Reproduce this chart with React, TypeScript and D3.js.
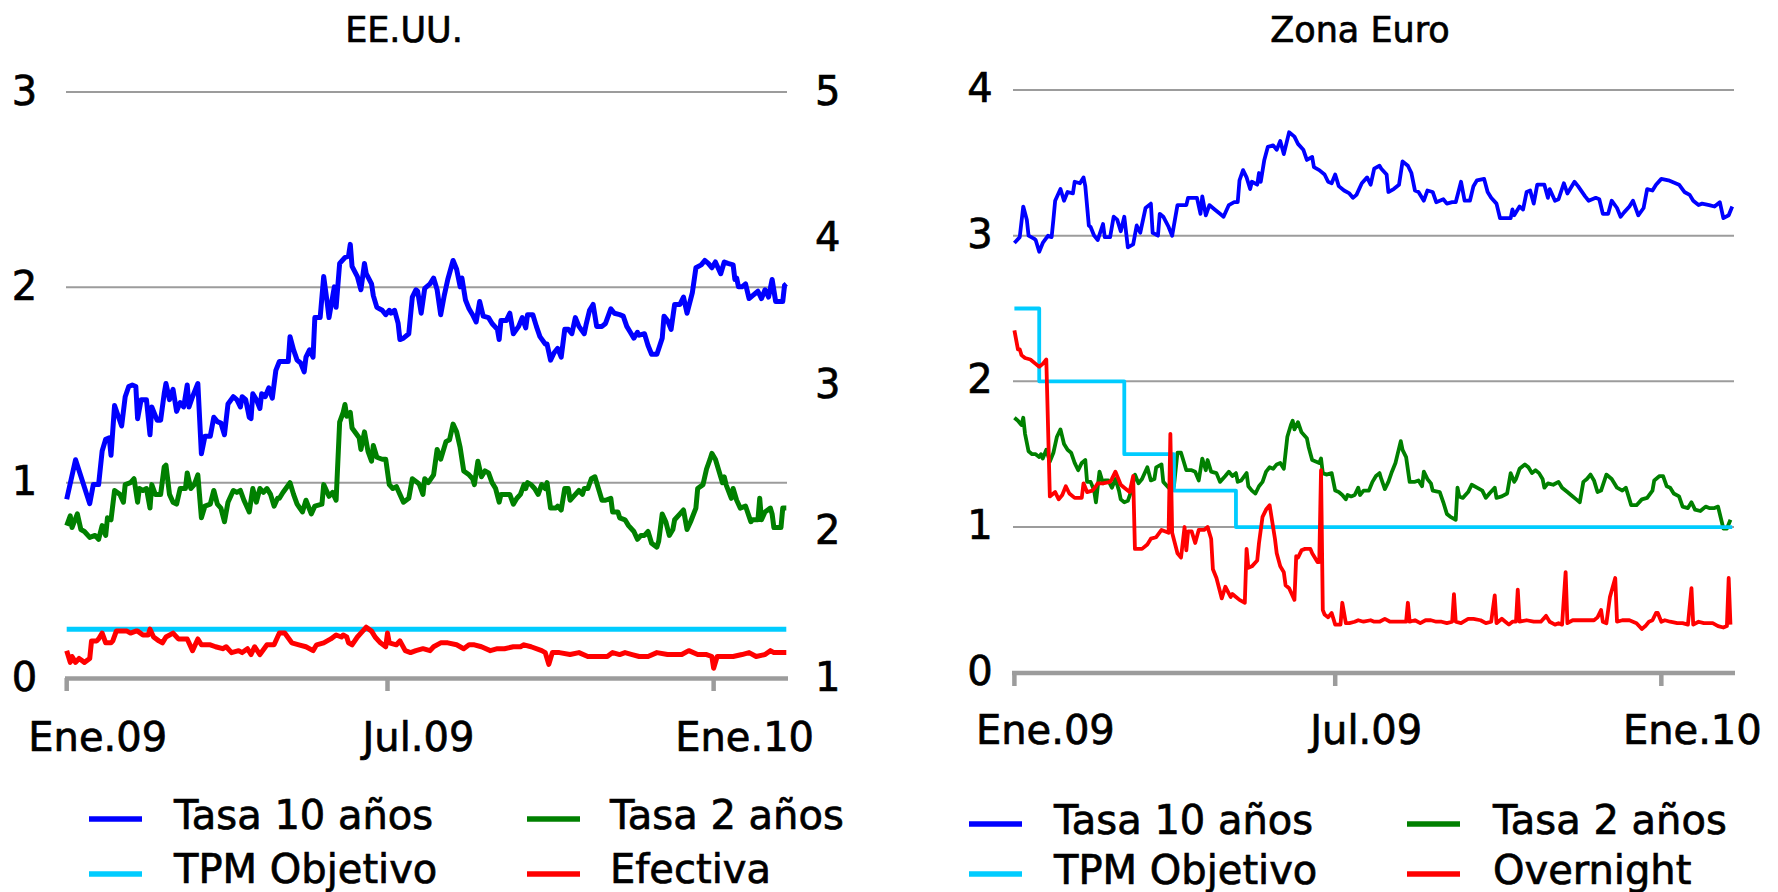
import React from "react";
import * as d3 from "d3";

type P = [number, number];

const baseDate = new Date(2009, 0, 1);
const endDay = 406;
const xTickDates = [new Date(2009, 0, 1), new Date(2009, 6, 1), new Date(2010, 0, 1)];
const xTickLabels = ["Ene.09", "Jul.09", "Ene.10"];

const usLeftTicks = [0, 1, 2, 3];
const usRightTicks = [1, 2, 3, 4, 5];
const euTicks = [0, 1, 2, 3, 4];

const usTitle = "EE.UU.";
const euTitle = "Zona Euro";
const usLegend = ["Tasa 10 años", "Tasa 2 años", "TPM Objetivo", "Efectiva"];
const euLegend = ["Tasa 10 años", "Tasa 2 años", "TPM Objetivo", "Overnight"];

// EE.UU. — 10-year (right axis)
const us10y: P[] = [[0,2.22],[5,2.49],[13,2.19],[15,2.32],[18,2.32],[20,2.55],[22,2.63],[24,2.64],[25,2.52],[27,2.86],[31,2.72],[33,2.92],[35,2.99],[37,3.00],[39,2.99],[40,2.77],[42,2.90],[45,2.90],[47,2.66],[48,2.85],[51,2.76],[53,2.76],[55,2.94],[56,3.01],[58,2.90],[60,2.97],[62,2.82],[64,2.88],[66,2.85],[68,3.00],[69,2.85],[71,2.92],[74,3.01],[76,2.53],[78,2.65],[81,2.65],[83,2.78],[85,2.75],[87,2.74],[89,2.66],[91,2.87],[94,2.92],[96,2.90],[98,2.85],[99,2.92],[101,2.90],[103,2.78],[104,2.77],[105,2.94],[107,2.90],[109,2.84],[110,2.94],[112,2.92],[114,2.98],[116,2.91],[118,3.10],[120,3.16],[123,3.16],[125,3.16],[126,3.33],[128,3.24],[130,3.17],[132,3.15],[134,3.09],[135,3.19],[137,3.24],[139,3.19],[140,3.46],[143,3.46],[145,3.74],[147,3.56],[148,3.46],[151,3.67],[152,3.53],[154,3.83],[157,3.87],[159,3.88],[160,3.96],[161,3.81],[164,3.74],[166,3.65],[168,3.83],[169,3.76],[172,3.69],[173,3.61],[175,3.53],[178,3.51],[180,3.48],[182,3.51],[183,3.49],[185,3.51],[187,3.42],[188,3.31],[190,3.32],[193,3.35],[195,3.60],[197,3.65],[198,3.64],[200,3.49],[202,3.66],[205,3.69],[207,3.73],[209,3.65],[211,3.48],[213,3.61],[215,3.72],[218,3.85],[220,3.79],[222,3.67],[223,3.73],[225,3.58],[227,3.52],[229,3.48],[231,3.43],[233,3.57],[235,3.47],[238,3.46],[240,3.42],[243,3.38],[244,3.31],[245,3.44],[248,3.44],[250,3.49],[252,3.35],[255,3.40],[257,3.46],[259,3.39],[260,3.48],[263,3.48],[265,3.40],[267,3.33],[270,3.28],[271,3.28],[273,3.17],[275,3.22],[277,3.25],[279,3.19],[281,3.38],[283,3.38],[285,3.35],[287,3.46],[289,3.40],[292,3.35],[293,3.41],[295,3.51],[297,3.55],[299,3.40],[302,3.40],[304,3.42],[307,3.52],[309,3.49],[312,3.48],[314,3.47],[316,3.40],[318,3.36],[320,3.32],[322,3.36],[323,3.34],[326,3.35],[328,3.27],[330,3.21],[333,3.21],[336,3.32],[337,3.47],[339,3.44],[341,3.38],[343,3.55],[346,3.55],[348,3.60],[350,3.49],[353,3.63],[355,3.80],[358,3.82],[360,3.85],[362,3.83],[364,3.80],[366,3.84],[369,3.76],[371,3.84],[373,3.83],[376,3.82],[377,3.72],[378,3.73],[379,3.67],[381,3.67],[383,3.69],[385,3.59],[387,3.61],[390,3.64],[392,3.59],[394,3.65],[396,3.60],[398,3.72],[400,3.57],[402,3.57],[404,3.57],[405,3.68],[406,3.69]];

// EE.UU. — 2-year (left axis)
const us2y: P[] = [[0,0.78],[2,0.83],[3,0.77],[6,0.84],[8,0.76],[10,0.75],[13,0.72],[16,0.73],[18,0.71],[20,0.78],[22,0.73],[23,0.82],[25,0.81],[27,0.96],[30,0.94],[32,0.90],[33,0.99],[36,1.00],[38,1.02],[40,0.90],[41,0.97],[43,0.96],[45,0.97],[47,0.87],[48,0.99],[50,0.94],[53,0.94],[55,1.08],[56,1.09],[58,0.94],[60,0.90],[62,0.89],[64,0.97],[67,0.97],[68,1.05],[70,0.97],[72,0.99],[74,1.04],[76,0.82],[78,0.88],[81,0.89],[83,0.96],[85,0.89],[87,0.87],[89,0.80],[91,0.90],[94,0.96],[96,0.95],[98,0.96],[100,0.91],[102,0.87],[103,0.85],[105,0.97],[107,0.90],[109,0.97],[111,0.95],[113,0.97],[115,0.94],[117,0.88],[119,0.92],[120,0.92],[122,0.95],[126,1.00],[128,0.94],[130,0.89],[133,0.85],[135,0.91],[138,0.84],[140,0.88],[144,0.89],[145,0.99],[148,0.93],[150,0.95],[152,0.91],[154,1.31],[156,1.36],[157,1.40],[158,1.34],[160,1.36],[161,1.28],[165,1.23],[166,1.17],[168,1.26],[170,1.16],[172,1.11],[173,1.19],[175,1.13],[178,1.12],[180,1.12],[182,0.99],[184,0.97],[186,0.98],[188,0.94],[190,0.90],[193,0.92],[195,1.02],[198,1.00],[199,0.99],[201,0.94],[202,1.02],[204,1.00],[207,1.04],[209,1.17],[211,1.12],[213,1.18],[214,1.21],[216,1.22],[218,1.30],[220,1.26],[222,1.18],[224,1.06],[227,1.04],[229,1.02],[230,0.99],[232,1.11],[234,1.03],[236,1.06],[238,1.05],[240,1.00],[242,0.97],[244,0.90],[245,0.94],[248,0.94],[250,0.94],[252,0.89],[254,0.92],[256,0.94],[258,0.99],[259,0.97],[260,1.00],[262,0.99],[264,0.97],[266,0.94],[268,0.99],[270,0.97],[271,1.00],[273,0.87],[276,0.87],[277,0.88],[279,0.86],[281,0.97],[283,0.97],[284,0.91],[286,0.93],[289,0.96],[291,0.94],[292,0.97],[294,0.97],[296,1.02],[298,1.03],[300,0.97],[302,0.91],[304,0.91],[307,0.92],[308,0.85],[311,0.85],[312,0.82],[315,0.81],[317,0.78],[320,0.75],[322,0.71],[324,0.73],[326,0.73],[328,0.75],[330,0.69],[333,0.67],[334,0.70],[336,0.84],[338,0.80],[340,0.73],[342,0.76],[343,0.81],[346,0.84],[348,0.86],[350,0.76],[352,0.80],[355,0.87],[356,0.97],[359,0.99],[361,1.07],[363,1.12],[364,1.15],[366,1.12],[368,1.06],[370,1.00],[371,1.03],[372,0.99],[375,0.92],[376,0.97],[378,0.91],[380,0.87],[383,0.88],[386,0.80],[387,0.81],[389,0.81],[390,0.81],[391,0.92],[392,0.81],[394,0.85],[397,0.87],[398,0.84],[399,0.77],[402,0.77],[403,0.77],[404,0.87],[406,0.87]];

// EE.UU. — policy target
const usTarget: P[] = [[0,0.25],[406,0.25]];

// EE.UU. — effective fed funds
const usEffective: P[] = [[0,0.14],[2,0.08],[3,0.11],[5,0.08],[7,0.10],[10,0.08],[13,0.10],[14,0.19],[17,0.19],[18,0.20],[20,0.23],[22,0.18],[25,0.18],[26,0.19],[28,0.24],[31,0.24],[34,0.24],[36,0.23],[39,0.24],[40,0.24],[43,0.22],[46,0.22],[47,0.25],[49,0.21],[52,0.19],[54,0.18],[56,0.21],[60,0.23],[63,0.20],[68,0.20],[71,0.14],[74,0.20],[76,0.17],[81,0.17],[84,0.16],[88,0.15],[90,0.16],[93,0.13],[97,0.14],[99,0.13],[102,0.15],[104,0.12],[106,0.16],[109,0.12],[113,0.17],[117,0.17],[120,0.23],[123,0.23],[127,0.18],[131,0.17],[135,0.16],[139,0.14],[141,0.17],[145,0.18],[149,0.20],[152,0.22],[155,0.21],[156,0.22],[158,0.21],[159,0.18],[161,0.17],[164,0.21],[167,0.24],[169,0.26],[172,0.24],[174,0.21],[177,0.18],[180,0.16],[181,0.23],[182,0.18],[186,0.17],[188,0.19],[191,0.14],[194,0.13],[197,0.14],[201,0.15],[205,0.14],[207,0.16],[211,0.18],[215,0.18],[220,0.17],[224,0.15],[227,0.17],[230,0.17],[234,0.16],[239,0.14],[243,0.15],[247,0.15],[252,0.16],[256,0.16],[258,0.17],[262,0.16],[268,0.14],[270,0.13],[272,0.07],[274,0.13],[278,0.13],[284,0.12],[289,0.13],[294,0.11],[299,0.11],[305,0.11],[308,0.13],[312,0.12],[315,0.13],[319,0.12],[323,0.11],[328,0.11],[333,0.13],[339,0.12],[347,0.12],[351,0.14],[356,0.12],[361,0.12],[364,0.11],[365,0.05],[367,0.11],[370,0.11],[376,0.11],[381,0.12],[385,0.13],[389,0.11],[394,0.12],[397,0.14],[399,0.13],[404,0.13],[406,0.13]];

// Zona Euro — 10-year
const eu10y: P[] = [[0,2.95],[3,2.99],[5,3.20],[7,3.11],[8,3.00],[11,2.98],[12,2.97],[14,2.89],[16,2.95],[19,3.00],[21,2.99],[22,3.11],[23,3.24],[26,3.32],[28,3.24],[30,3.30],[33,3.29],[34,3.37],[37,3.36],[39,3.40],[40,3.34],[42,3.07],[43,3.06],[45,3.00],[47,2.97],[50,3.08],[51,2.99],[54,2.99],[56,3.13],[58,3.11],[60,3.03],[62,3.13],[64,2.92],[67,2.94],[69,3.07],[71,3.02],[74,3.19],[77,3.22],[78,3.02],[81,3.00],[82,3.15],[84,3.13],[87,3.06],[89,3.00],[92,3.21],[95,3.21],[97,3.21],[98,3.26],[100,3.26],[103,3.26],[105,3.15],[106,3.27],[108,3.14],[110,3.21],[113,3.18],[116,3.15],[118,3.13],[121,3.21],[124,3.23],[126,3.23],[127,3.38],[129,3.45],[131,3.40],[133,3.32],[134,3.37],[137,3.35],[138,3.43],[139,3.37],[141,3.52],[143,3.61],[146,3.62],[148,3.59],[150,3.65],[152,3.56],[155,3.71],[158,3.68],[160,3.63],[163,3.59],[165,3.52],[168,3.54],[169,3.47],[172,3.45],[175,3.42],[177,3.37],[179,3.36],[181,3.42],[183,3.34],[186,3.31],[189,3.29],[191,3.26],[193,3.28],[196,3.36],[199,3.40],[201,3.35],[203,3.46],[206,3.48],[207,3.46],[210,3.42],[211,3.30],[214,3.32],[217,3.35],[219,3.51],[222,3.48],[224,3.43],[226,3.31],[228,3.30],[231,3.24],[233,3.31],[236,3.30],[238,3.23],[240,3.24],[242,3.25],[244,3.22],[247,3.23],[249,3.23],[252,3.37],[254,3.24],[257,3.24],[259,3.34],[261,3.38],[265,3.39],[267,3.30],[269,3.26],[272,3.22],[274,3.12],[276,3.12],[280,3.12],[281,3.18],[282,3.14],[285,3.20],[287,3.18],[289,3.30],[291,3.31],[293,3.22],[295,3.35],[299,3.35],[301,3.26],[302,3.32],[305,3.24],[307,3.25],[310,3.36],[312,3.29],[316,3.37],[318,3.34],[322,3.27],[324,3.24],[328,3.26],[330,3.25],[332,3.15],[335,3.15],[337,3.24],[340,3.19],[342,3.13],[344,3.16],[347,3.20],[349,3.24],[352,3.14],[355,3.19],[357,3.32],[360,3.31],[362,3.35],[365,3.39],[369,3.38],[371,3.37],[375,3.35],[378,3.30],[381,3.28],[383,3.24],[386,3.21],[388,3.22],[392,3.21],[395,3.20],[398,3.23],[400,3.12],[403,3.14],[405,3.20]];

// Zona Euro — 2-year
const eu2y: P[] = [[0,1.75],[2,1.73],[4,1.70],[5,1.75],[6,1.64],[8,1.52],[10,1.50],[12,1.50],[14,1.48],[15,1.50],[16,1.47],[18,1.53],[20,1.45],[22,1.51],[24,1.62],[26,1.67],[28,1.57],[30,1.53],[32,1.51],[34,1.44],[36,1.39],[38,1.44],[40,1.46],[41,1.31],[43,1.31],[45,1.25],[46,1.17],[48,1.38],[50,1.30],[51,1.32],[53,1.32],[55,1.27],[57,1.33],[59,1.25],[60,1.19],[62,1.17],[64,1.18],[66,1.25],[68,1.36],[70,1.30],[72,1.33],[75,1.41],[77,1.32],[79,1.33],[80,1.41],[83,1.43],[84,1.31],[87,1.27],[90,1.28],[92,1.51],[94,1.51],[95,1.47],[97,1.39],[100,1.39],[102,1.38],[104,1.32],[106,1.47],[108,1.39],[109,1.46],[111,1.38],[114,1.37],[116,1.31],[119,1.35],[121,1.38],[123,1.35],[125,1.37],[126,1.31],[128,1.32],[131,1.37],[132,1.28],[134,1.25],[136,1.23],[138,1.28],[140,1.31],[142,1.38],[144,1.41],[146,1.40],[148,1.43],[150,1.44],[152,1.40],[154,1.62],[156,1.70],[157,1.73],[158,1.67],[160,1.72],[162,1.65],[165,1.61],[166,1.55],[168,1.46],[170,1.45],[172,1.44],[173,1.47],[174,1.37],[176,1.36],[179,1.37],[181,1.25],[183,1.24],[185,1.22],[187,1.19],[188,1.22],[190,1.21],[192,1.22],[194,1.27],[195,1.22],[197,1.25],[200,1.25],[202,1.31],[204,1.35],[206,1.37],[207,1.33],[209,1.26],[211,1.31],[213,1.38],[215,1.44],[216,1.49],[218,1.59],[219,1.53],[221,1.48],[223,1.31],[226,1.31],[228,1.32],[230,1.28],[231,1.38],[233,1.33],[235,1.30],[236,1.25],[240,1.24],[242,1.17],[244,1.09],[246,1.07],[249,1.05],[250,1.27],[251,1.21],[253,1.20],[256,1.24],[258,1.29],[261,1.27],[264,1.25],[266,1.20],[268,1.23],[271,1.27],[272,1.20],[275,1.21],[278,1.23],[280,1.37],[282,1.31],[283,1.33],[285,1.40],[288,1.43],[290,1.41],[292,1.37],[294,1.39],[296,1.37],[298,1.33],[299,1.27],[301,1.30],[304,1.29],[307,1.31],[309,1.27],[312,1.24],[314,1.22],[317,1.19],[319,1.17],[321,1.31],[323,1.33],[325,1.36],[327,1.32],[329,1.24],[331,1.25],[334,1.36],[337,1.33],[340,1.27],[343,1.25],[345,1.27],[348,1.15],[351,1.15],[354,1.19],[357,1.20],[360,1.25],[361,1.32],[364,1.35],[366,1.35],[368,1.28],[370,1.27],[372,1.23],[375,1.21],[377,1.14],[380,1.13],[382,1.17],[384,1.12],[387,1.11],[390,1.14],[392,1.13],[395,1.13],[397,1.14],[400,0.99],[402,0.99],[404,1.05]];

// Zona Euro — policy target (step)
const euTarget: P[] = [[0,2.5],[14,2.0],[62,1.5],[90,1.25],[125,1.0],[405,1.0]];

// Zona Euro — overnight
const euOvernight: P[] = [[0,2.35],[2,2.22],[3,2.22],[4,2.18],[6,2.16],[9,2.15],[12,2.12],[14,2.10],[16,2.12],[18,2.15],[20,1.21],[23,1.24],[25,1.19],[27,1.22],[29,1.28],[31,1.23],[34,1.20],[38,1.20],[39,1.30],[41,1.24],[44,1.25],[46,1.28],[47,1.30],[50,1.30],[54,1.31],[55,1.33],[57,1.38],[60,1.29],[62,1.27],[65,1.24],[67,1.35],[68,0.85],[72,0.85],[75,0.88],[77,0.92],[80,0.93],[83,0.98],[87,0.96],[88,1.64],[89,0.96],[92,0.82],[94,0.79],[96,1.00],[97,0.84],[98,0.97],[100,0.97],[102,0.89],[104,0.98],[107,0.98],[109,1.00],[111,0.92],[112,0.71],[114,0.65],[117,0.51],[119,0.59],[122,0.52],[123,0.54],[125,0.52],[127,0.50],[130,0.48],[131,0.85],[132,0.72],[134,0.73],[137,0.77],[138,0.89],[140,1.07],[142,1.12],[144,1.15],[147,0.92],[148,0.82],[150,0.73],[152,0.69],[153,0.60],[155,0.58],[158,0.50],[159,0.80],[160,0.79],[162,0.84],[164,0.85],[167,0.85],[168,0.82],[171,0.76],[172,0.76],[173,1.39],[174,0.43],[175,0.40],[177,0.38],[179,0.41],[181,0.33],[184,0.33],[185,0.48],[187,0.34],[189,0.34],[192,0.35],[194,0.36],[197,0.35],[201,0.36],[203,0.35],[206,0.35],[209,0.37],[212,0.35],[216,0.35],[220,0.35],[221,0.35],[222,0.48],[223,0.35],[226,0.36],[229,0.34],[232,0.36],[235,0.36],[238,0.35],[241,0.35],[244,0.34],[247,0.35],[248,0.54],[249,0.35],[252,0.34],[256,0.37],[259,0.37],[263,0.36],[266,0.34],[269,0.35],[271,0.53],[272,0.34],[275,0.37],[277,0.35],[279,0.33],[281,0.35],[283,0.35],[284,0.57],[285,0.35],[289,0.36],[293,0.35],[297,0.35],[300,0.39],[302,0.35],[305,0.33],[307,0.34],[309,0.33],[311,0.69],[312,0.34],[315,0.36],[319,0.36],[323,0.36],[327,0.36],[329,0.38],[331,0.43],[332,0.35],[334,0.34],[336,0.52],[339,0.65],[340,0.35],[343,0.36],[347,0.36],[351,0.34],[354,0.30],[356,0.32],[358,0.35],[360,0.36],[362,0.41],[363,0.41],[365,0.35],[367,0.36],[370,0.35],[374,0.34],[377,0.34],[380,0.33],[382,0.58],[383,0.33],[386,0.35],[389,0.34],[391,0.34],[394,0.34],[397,0.32],[400,0.31],[402,0.32],[403,0.65],[404,0.33]];

const BLUE = "#0000FF";
const GREEN = "#008000";
const CYAN = "#00CCFF";
const RED = "#FF0000";
const GRID = "#9C9C9C";
const FONT = "'DejaVu Sans', Verdana, sans-serif";

const toDate = (d: number) => d3.timeDay.offset(baseDate, d);
const domain = [baseDate, toDate(endDay)];

const textStyle = { stroke: "#000", strokeWidth: 0.7, paintOrder: "stroke" } as any;

export default function App() {
  // EE.UU. panel scales
  const xUS = d3.scaleTime().domain(domain).range([66.7, 786.3]);
  const yUSL = d3.scaleLinear().domain([0, 3]).range([678, 92]);
  const yUSR = d3.scaleLinear().domain([1, 5]).range([678, 92]);
  // Zona Euro panel scales
  const xEU = d3.scaleTime().domain(domain).range([1014.4, 1734]);
  const yEU = d3.scaleLinear().domain([0, 4]).range([672.7, 90]);

  const mk = (x: any, y: any, curve: any = d3.curveLinear) =>
    d3.line<P>().x((d) => x(toDate(d[0]))).y((d) => y(d[1])).curve(curve);

  const usLines = [
    { data: us2y, y: yUSL, color: GREEN },
    { data: us10y, y: yUSR, color: BLUE },
    { data: usTarget, y: yUSL, color: CYAN },
    { data: usEffective, y: yUSL, color: RED },
  ];
  const euLines = [
    { data: eu10y, color: BLUE, curve: d3.curveLinear },
    { data: eu2y, color: GREEN, curve: d3.curveLinear },
    { data: euTarget, color: CYAN, curve: d3.curveStepAfter },
    { data: euOvernight, color: RED, curve: d3.curveLinear },
  ];

  const legend = (labels: string[], colors: string[], sx: number[], tx: number[], sy: number[], ty: number[]) =>
    labels.map((lab, i) => {
      const col = i % 2;
      const row = Math.floor(i / 2);
      return (
        <g key={lab + i}>
          <line x1={sx[col]} x2={sx[col] + 53} y1={sy[row]} y2={sy[row]} stroke={colors[i]} strokeWidth={5.5} />
          <text x={tx[col]} y={ty[row]} fontSize={40} fontFamily={FONT} fill="#000" style={textStyle}>{lab}</text>
        </g>
      );
    });

  const legendColors = [BLUE, GREEN, CYAN, RED];

  return (
    <svg
      width={1778}
      height={892}
      style={{ position: "absolute", left: 0, top: 0, display: "block", background: "#fff" }}
    >
      <rect x={0} y={0} width={1778} height={892} fill="#fff" />

      {/* ===== EE.UU. ===== */}
      <text x={404} y={42} textAnchor="middle" fontSize={35} fontFamily={FONT} style={textStyle}>{usTitle}</text>
      {usLeftTicks.filter((t) => t > 0).map((t) => (
        <line key={"gl" + t} x1={66} x2={787} y1={yUSL(t)} y2={yUSL(t)} stroke={GRID} strokeWidth={2} />
      ))}
      {usLeftTicks.map((t) => (
        <text key={"ll" + t} x={24.5} y={yUSL(t) + 12.5} textAnchor="middle" fontSize={40} fontFamily={FONT} style={textStyle}>{t}</text>
      ))}
      {usRightTicks.map((t) => (
        <text key={"rl" + t} x={815} y={yUSR(t) + 12.5} fontSize={40} fontFamily={FONT} style={textStyle}>{t}</text>
      ))}
      {usLines.map((s, i) => (
        <path key={"us" + i} d={mk(xUS, s.y)(s.data) || ""} fill="none" stroke={s.color} strokeWidth={5} strokeLinejoin="round" />
      ))}
      <line x1={65} x2={788} y1={678.5} y2={678.5} stroke={GRID} strokeWidth={4.5} />
      {xTickDates.map((d, i) => (
        <line key={"ut" + i} x1={xUS(d)} x2={xUS(d)} y1={678} y2={691} stroke={GRID} strokeWidth={4.5} />
      ))}
      {xTickDates.map((d, i) => (
        <text key={"ux" + i} x={xUS(d) + 31} y={751} textAnchor="middle" fontSize={40} fontFamily={FONT} style={textStyle}>{xTickLabels[i]}</text>
      ))}
      {legend(usLegend, legendColors, [89, 527], [174, 610], [819, 874], [829, 883])}

      {/* ===== Zona Euro ===== */}
      <text x={1360} y={42} textAnchor="middle" fontSize={35} fontFamily={FONT} style={textStyle}>{euTitle}</text>
      {euTicks.filter((t) => t > 0).map((t) => (
        <line key={"eg" + t} x1={1013} x2={1734} y1={yEU(t)} y2={yEU(t)} stroke={GRID} strokeWidth={2} />
      ))}
      {euTicks.map((t) => (
        <text key={"el" + t} x={980} y={yEU(t) + 12} textAnchor="middle" fontSize={40} fontFamily={FONT} style={textStyle}>{t}</text>
      ))}
      {euLines.map((s, i) => (
        <path key={"eu" + i} d={mk(xEU, yEU, s.curve)(s.data) || ""} fill="none" stroke={s.color} strokeWidth={3.8} strokeLinejoin="round" />
      ))}
      <line x1={1012} x2={1735} y1={673} y2={673} stroke={GRID} strokeWidth={4.5} />
      {xTickDates.map((d, i) => (
        <line key={"et" + i} x1={xEU(d)} x2={xEU(d)} y1={673} y2={686} stroke={GRID} strokeWidth={4.5} />
      ))}
      {xTickDates.map((d, i) => (
        <text key={"ex" + i} x={xEU(d) + 31} y={744} textAnchor="middle" fontSize={40} fontFamily={FONT} style={textStyle}>{xTickLabels[i]}</text>
      ))}
      {legend(euLegend, legendColors, [969, 1407], [1054, 1493], [824, 874], [834, 884])}
    </svg>
  );
}
